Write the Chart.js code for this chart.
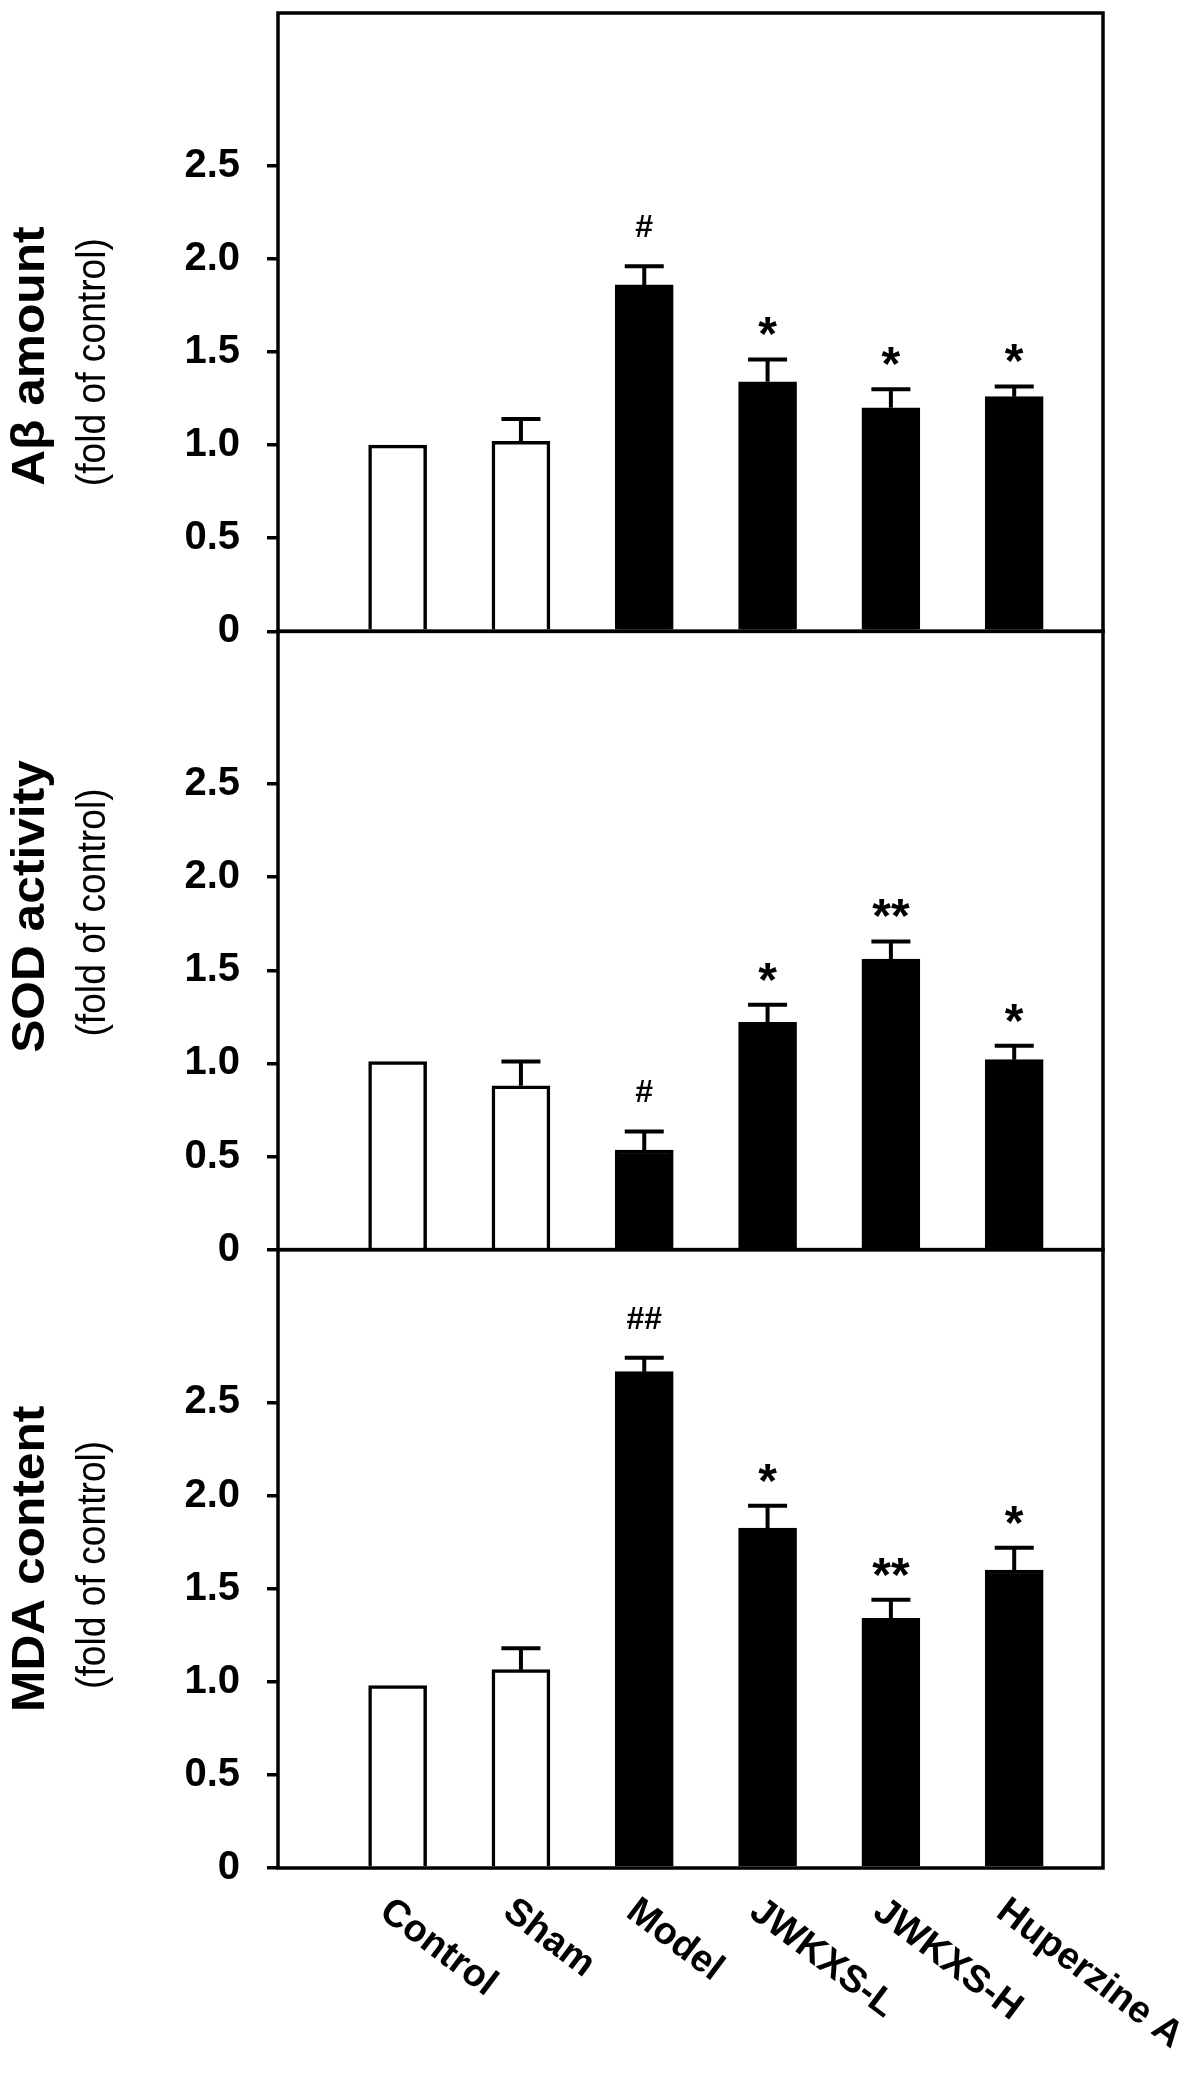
<!DOCTYPE html>
<html>
<head>
<meta charset="utf-8">
<title>Abeta, SOD, MDA</title>
<script src="https://cdn.jsdelivr.net/npm/chart.js@4.4.1/dist/chart.umd.min.js"></script>
<style>
  html, body { margin: 0; padding: 0; background: #fff; }
  #wrap { position: relative; width: 1204px; height: 2100px; }
</style>
</head>
<body>
<div id="wrap"><canvas id="chart"></canvas></div>
<script>
'use strict'

// groups along the x axis
const groups = ['Control', 'Sham', 'Model', 'JWKXS-L', 'JWKXS-H', 'Huperzine A']
const barFills = ['#ffffff', '#ffffff', '#000000', '#000000', '#000000', '#000000']

// y ticks shared by the three panels
const yTickValues = [0, 0.5, 1.0, 1.5, 2.0, 2.5]
const yTickLabels = ['0', '0.5', '1.0', '1.5', '2.0', '2.5']

// panel 1: Abeta amount
const abetaMean = [1.00, 1.02, 1.86, 1.34, 1.20, 1.26]
const abetaErr = [0, 0.12, 0.10, 0.12, 0.10, 0.055]
const abetaMarks = ['', '', '#', '*', '*', '*']

// panel 2: SOD activity
const sodMean = [1.01, 0.88, 0.535, 1.22, 1.56, 1.02]
const sodErr = [0, 0.13, 0.10, 0.095, 0.095, 0.075]
const sodMarks = ['', '', '#', '*', '**', '*']

// panel 3: MDA content
const mdaMean = [0.98, 1.065, 2.665, 1.825, 1.34, 1.60]
const mdaErr = [0, 0.115, 0.075, 0.12, 0.10, 0.12]
const mdaMarks = ['', '', '##', '*', '**', '*']

const panelTitles = ['A\u03b2 amount', 'SOD activity', 'MDA content']
const panelSubtitle = '(fold of control)'

const FONT = '"Liberation Sans", Arial, sans-serif'
const LINE = 3.5

const panels = [
    {id: 'yA', title: panelTitles[0], mean: abetaMean, err: abetaErr, marks: abetaMarks, shift: 34},
    {id: 'yB', title: panelTitles[1], mean: sodMean, err: sodErr, marks: sodMarks, shift: -34},
    {id: 'yC', title: panelTitles[2], mean: mdaMean, err: mdaErr, marks: mdaMarks, shift: 0},
]

function yScale(weight) {
    return {
        type: 'linear',
        position: 'left',
        stack: 'panels',
        stackWeight: 1,
        weight: weight,
        min: 0,
        max: 3.32,
        afterBuildTicks: (scale) => {
            scale.ticks = yTickValues.map(v => ({value: v}))
        },
        afterFit: (scale) => {
            scale.width = 278
            scale.paddingTop = 0
            scale.paddingBottom = 0
        },
        ticks: {
            padding: 27,
            color: '#000',
            font: {family: FONT, size: 40, weight: 'bold'},
            callback: (value, index) => yTickLabels[index],
        },
        grid: {
            drawOnChartArea: false,
            drawTicks: true,
            tickLength: 11,
            color: '#000',
            lineWidth: LINE,
        },
        border: {display: false},
    }
}

function drawCentered(ctx, text, x, y) {
    const m = ctx.measureText(text)
    const baseline = y + (m.actualBoundingBoxAscent - m.actualBoundingBoxDescent) / 2
    ctx.fillText(text, x, baseline)
}

const figurePlugin = {
    id: 'figure',
    afterDatasetsDraw(chart) {
        const ctx = chart.ctx
        const area = chart.chartArea
        ctx.save()
        ctx.strokeStyle = '#000'
        ctx.fillStyle = '#000'

        panels.forEach((panel, p) => {
            const ys = chart.scales[panel.id]
            const meta = chart.getDatasetMeta(p)

            // frame of the panel
            ctx.lineWidth = LINE
            ctx.strokeRect(area.left, ys.top, area.right - area.left, ys.bottom - ys.top)

            // upper error bars and significance marks
            meta.data.forEach((bar, i) => {
                const top = panel.mean[i] + panel.err[i]
                const yTop = ys.getPixelForValue(top)
                if (panel.err[i] > 0) {
                    ctx.lineWidth = 4
                    ctx.beginPath()
                    ctx.moveTo(bar.x, ys.getPixelForValue(panel.mean[i]))
                    ctx.lineTo(bar.x, yTop)
                    ctx.moveTo(bar.x - 19.5, yTop)
                    ctx.lineTo(bar.x + 19.5, yTop)
                    ctx.stroke()
                }
                const mark = panel.marks[i]
                if (mark) {
                    ctx.textAlign = 'center'
                    if (mark.startsWith('#')) {
                        ctx.font = 'bold 32px ' + FONT
                        drawCentered(ctx, mark, bar.x, yTop - 40)
                    } else {
                        ctx.font = 'bold 48px ' + FONT
                        drawCentered(ctx, mark, bar.x, yTop - 33)
                    }
                }
            })

            // axis titles
            const midY = (ys.top + ys.bottom) / 2 + panel.shift
            ctx.save()
            ctx.translate(31, midY)
            ctx.rotate(-Math.PI / 2)
            ctx.font = 'bold 46px ' + FONT
            ctx.scale(1.08, 1)
            ctx.textAlign = 'center'
            ctx.textBaseline = 'middle'
            ctx.fillText(panel.title, 0, 0)
            ctx.restore()

            ctx.save()
            ctx.translate(94, midY + 6)
            ctx.rotate(-Math.PI / 2)
            ctx.font = '40px ' + FONT
            ctx.scale(0.93, 1)
            ctx.textAlign = 'center'
            ctx.textBaseline = 'middle'
            ctx.fillText(panelSubtitle, 0, 0)
            ctx.restore()
        })

        // slanted group names under the last panel
        const xs = chart.scales.x
        const yBase = chart.scales[panels[panels.length - 1].id].bottom
        ctx.font = 'bold 38px ' + FONT
        ctx.textAlign = 'left'
        ctx.textBaseline = 'top'
        groups.forEach((name, i) => {
            ctx.save()
            ctx.translate(xs.getPixelForValue(i) - 2, yBase + 24)
            ctx.rotate(37 * Math.PI / 180)
            ctx.fillText(name, 0, 0)
            ctx.restore()
        })
        ctx.restore()
    },
}

new Chart(document.getElementById('chart'), {
    type: 'bar',
    data: {
        datasets: panels.map(panel => ({
            label: panel.title,
            yAxisID: panel.id,
            data: panel.mean.map((v, i) => ({x: i, y: v})),
            backgroundColor: barFills,
            borderColor: '#000',
            borderWidth: LINE,
            barThickness: 58,
            grouped: false,
        })),
    },
    options: {
        responsive: true,
        maintainAspectRatio: false,
        animation: false,
        devicePixelRatio: 1,
        layout: {padding: {top: 13, right: 101, left: 0, bottom: 0}},
        plugins: {
            legend: {display: false},
            tooltip: {enabled: false},
        },
        scales: {
            x: {
                type: 'linear',
                offset: false,
                min: -0.97,
                max: 5.72,
                afterFit: (scale) => {
                    scale.height = 232
                    scale.paddingLeft = 0
                    scale.paddingRight = 0
                },
                ticks: {display: false},
                grid: {display: false, offset: false},
                border: {display: false},
            },
            yC: yScale(1),
            yB: yScale(2),
            yA: yScale(3),
        },
    },
    plugins: [figurePlugin],
})
</script>
</body>
</html>
